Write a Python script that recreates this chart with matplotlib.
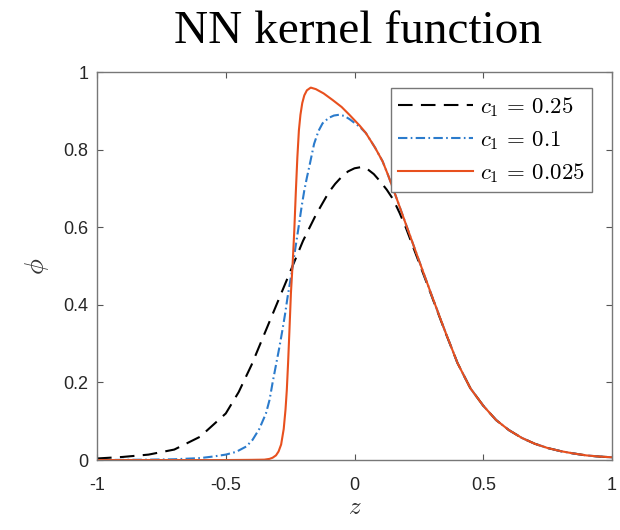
import matplotlib
matplotlib.use("Agg")
import matplotlib.pyplot as plt

# c1 = 0.25 (black dashed)
z_a = [-1.0, -0.9, -0.8, -0.7, -0.6, -0.5, -0.45, -0.4, -0.35, -0.3,
       -0.25, -0.2, -0.15, -0.1, -0.075, -0.05, -0.025, 0.0, 0.025, 0.05,
       0.075, 0.1, 0.125, 0.15, 0.175, 0.2, 0.25, 0.3, 0.35, 0.4,
       0.45, 0.5, 0.55, 0.6, 0.65, 0.7, 0.75, 0.8, 0.85, 0.9, 0.95, 1.0]
phi_a = [0.004, 0.008, 0.014, 0.027, 0.06, 0.12, 0.175, 0.245, 0.325, 0.405,
         0.485, 0.565, 0.632, 0.69, 0.712, 0.73, 0.744, 0.752, 0.755, 0.75,
         0.737, 0.718, 0.697, 0.672, 0.637, 0.598, 0.51, 0.422, 0.334, 0.25,
         0.185, 0.14, 0.103, 0.077, 0.057, 0.042, 0.031, 0.023, 0.017, 0.012,
         0.009, 0.007]

# c1 = 0.1 (blue dash-dot)
z_b = [-1.0, -0.8, -0.7, -0.6, -0.55, -0.5, -0.46, -0.42, -0.396, -0.37,
       -0.344, -0.33, -0.318, -0.305, -0.292, -0.28, -0.27, -0.26, -0.25,
       -0.24, -0.23, -0.215, -0.205, -0.195, -0.185, -0.176, -0.165, -0.157,
       -0.14, -0.124, -0.1, -0.08, -0.06, -0.04, -0.02, 0.0, 0.02, 0.044,
       0.08, 0.109, 0.13, 0.154, 0.2, 0.25, 0.3, 0.35, 0.4, 0.45, 0.5, 0.55,
       0.6, 0.65, 0.7, 0.75, 0.8, 0.85, 0.9, 0.95, 1.0]
phi_b = [0.0, 0.001, 0.002, 0.005, 0.009, 0.014, 0.021, 0.035, 0.052, 0.08,
         0.12, 0.155, 0.2, 0.245, 0.29, 0.335, 0.375, 0.42, 0.46,
         0.50, 0.545, 0.61, 0.655, 0.695, 0.728, 0.755, 0.79, 0.815,
         0.848, 0.868, 0.882, 0.888, 0.89, 0.887, 0.879, 0.869, 0.859, 0.843,
         0.805, 0.77, 0.735, 0.692, 0.607, 0.515, 0.424, 0.335, 0.25, 0.185,
         0.14, 0.103, 0.077, 0.057, 0.042, 0.031, 0.023, 0.017, 0.012, 0.009,
         0.007]

# c1 = 0.025 (orange solid)
z_c = [-1.0, -0.5, -0.4, -0.35, -0.33, -0.318, -0.305, -0.295, -0.285,
       -0.275, -0.268, -0.263, -0.258, -0.253, -0.247, -0.24, -0.234, -0.228,
       -0.222, -0.216, -0.21, -0.203, -0.195, -0.185, -0.17, -0.15, -0.12,
       -0.085, -0.05, -0.02, 0.02, 0.044, 0.08, 0.109, 0.13, 0.154, 0.2,
       0.25, 0.3, 0.35, 0.4, 0.45, 0.5, 0.55, 0.6, 0.65, 0.7, 0.75, 0.8,
       0.85, 0.9, 0.95, 1.0]
phi_c = [0.0, 0.0, 0.0005, 0.001, 0.003, 0.006, 0.012, 0.022, 0.04,
         0.08, 0.13, 0.18, 0.25, 0.33, 0.43, 0.51, 0.59, 0.69,
         0.78, 0.85, 0.89, 0.92, 0.94, 0.953, 0.96, 0.956, 0.945,
         0.928, 0.91, 0.89, 0.862, 0.843, 0.805, 0.77, 0.735, 0.692, 0.607,
         0.515, 0.424, 0.335, 0.25, 0.185, 0.14, 0.103, 0.077, 0.057, 0.042,
         0.031, 0.023, 0.017, 0.012, 0.009, 0.007]

labels = [r"$c_1 \,=\, 0.25$", r"$c_1 \,=\, 0.1$", r"$c_1 \,=\, 0.025$"]
xticks = [-1, -0.5, 0, 0.5, 1]
xticklabels = ["-1", "-0.5", "0", "0.5", "1"]
yticks = [0, 0.2, 0.4, 0.6, 0.8, 1]
yticklabels = ["0", "0.2", "0.4", "0.6", "0.8", "1"]

plt.rcParams["mathtext.fontset"] = "cm"
plt.rcParams["font.family"] = ["Liberation Sans", "DejaVu Sans"]

fig = plt.figure(figsize=(6.2, 5.3), dpi=100)
ax = fig.add_axes([0.1565, 0.132, 0.8306, 0.732])

ax.plot(z_a, phi_a, color="black", lw=1.5, dashes=(7, 4), label=labels[0])
ax.plot(z_b, phi_b, color="#2b7bcc", lw=1.5, dashes=(4.5, 1.6, 0.8, 1.6),
        label=labels[1])
ax.plot(z_c, phi_c, color="#e8501e", lw=1.5, label=labels[2])

ax.set_xlim(-1, 1)
ax.set_ylim(0, 1)
ax.set_xticks(xticks)
ax.set_xticklabels(xticklabels)
ax.set_yticks(yticks)
ax.set_yticklabels(yticklabels)
ax.tick_params(direction="in", length=4, width=0.8, colors="#555555",
               labelcolor="#262626", labelsize=13, top=True, right=True)
ax.tick_params(axis="x", pad=12)
ax.tick_params(axis="y", pad=6)
for s in ax.spines.values():
    s.set_color("#777777")
    s.set_linewidth(1.0)

ax.set_xlabel(r"$z$", fontsize=18, color="#333333", labelpad=1)
ax.set_ylabel(r"$\phi$", fontsize=19, color="#333333", labelpad=9)

fig.text(0.578, 0.919, "NN kernel function", family="Liberation Serif",
         fontsize=34, ha="center", va="baseline", color="black")

leg = ax.legend(loc="upper right", bbox_to_anchor=(0.961, 0.959), fontsize=16.5,
                handlelength=3.3, handletextpad=0.3, borderpad=0.3,
                labelspacing=0.4, fancybox=False, framealpha=1,
                borderaxespad=0)
leg.get_frame().set_edgecolor("#777777")
leg.get_frame().set_linewidth(1.0)

fig.savefig("out.png", dpi=100)
